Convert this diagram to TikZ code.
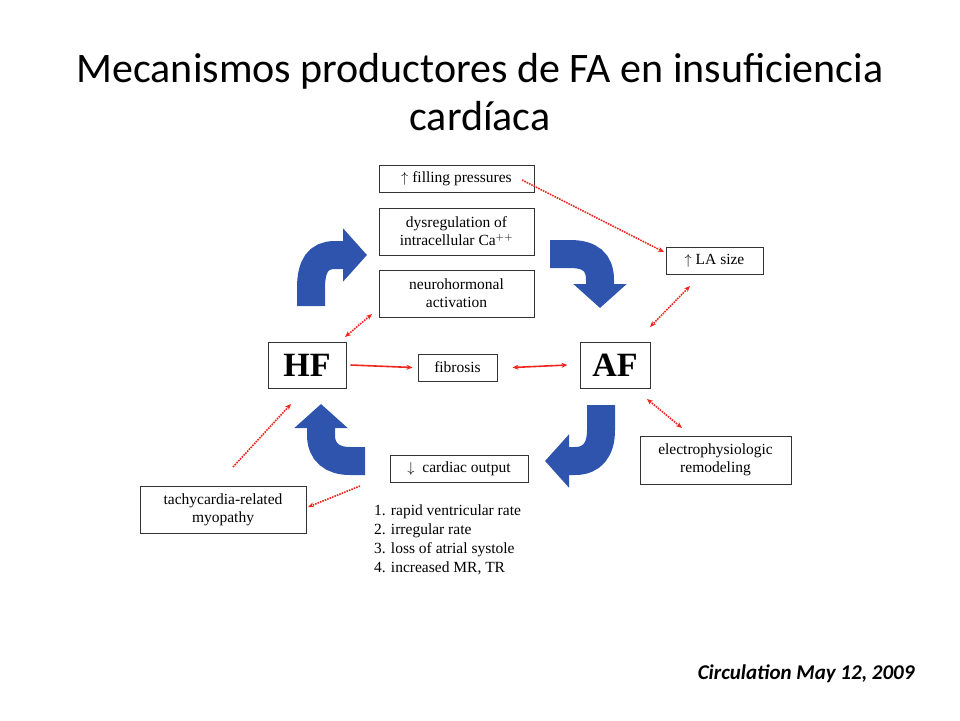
\documentclass[tikz,border=0pt]{standalone}
\usepackage{fontspec}
\setmainfont{Liberation Serif}
\newfontfamily\titlefont{Carlito}
\usetikzlibrary{arrows.meta}
\definecolor{blk}{rgb}{0.18,0.33,0.68}
\definecolor{redl}{rgb}{0.93,0.15,0.12}
\begin{document}
\begin{tikzpicture}[x=1pt,y=-1pt,
  bx/.style={draw=black!80,line width=1pt,fill=white,inner sep=0pt,align=center,font=\fontsize{15.5}{18}\selectfont},
  big/.style={bx,font=\fontsize{34}{36}\selectfont\bfseries},
  ra/.style={redl,line width=1.6pt,densely dotted,-{Stealth[length=6pt,width=5pt]}},
  rb/.style={redl,line width=1.6pt,densely dotted,{Stealth[length=6pt,width=5pt]}-{Stealth[length=6pt,width=5pt]}},
  ba/.style={blk,line width=28pt,-{Triangle[length=24pt,width=52pt]}}]
\useasboundingbox (0,0) rectangle (960,720);
\node[font=\titlefont\fontsize{42}{48}\selectfont,align=center] (title) at (480,92) {Mecanismos productores de FA en insuficiencia\\cardíaca};
\node[bx,minimum width=155,minimum height=27] (fp) at (456.5,178.5) {$\uparrow$ filling pressures};
\node[bx,minimum width=155,minimum height=47] (dys) at (456.5,231.5) {dysregulation of\\intracellular Ca$^{++}$};
\node[bx,minimum width=155,minimum height=47] (neu) at (456.5,293.5) {neurohormonal\\activation};
\node[bx,minimum width=97,minimum height=27] (la) at (714.5,260.5) {$\uparrow$ LA size};
\node[big,minimum width=78,minimum height=46] (hf) at (307,365) {HF};
\node[bx,minimum width=79,minimum height=27] (fib) at (457.5,367.5) {fibrosis};
\node[big,minimum width=70,minimum height=46] (af) at (615,365) {AF};
\node[bx,minimum width=151,minimum height=48] (ep) at (715.5,460) {electrophysiologic\\remodeling};
\node[bx,minimum width=138,minimum height=27] (co) at (459,468.5) {$\downarrow$\enspace cardiac output};
\node[bx,minimum width=166,minimum height=47] (ta) at (223,509.5) {tachycardia-related\\myopathy};
\node[anchor=north west,align=left,font=\fontsize{15.5}{19}\selectfont,inner sep=0pt] (lst) at (374,505) {1. rapid ventricular rate\\2. irregular rate\\3. loss of atrial systole\\4. increased MR, TR};
\node[anchor=east,font=\titlefont\fontsize{21}{24}\selectfont\bfseries\itshape] (cit) at (918,674) {Circulation May 12, 2009};
% red connectors
\coordinate (a1) at (522,180); \coordinate (a2) at (664,252);
\draw[ra] (a1) -- (a2);
\coordinate (b1) at (690,286); \coordinate (b2) at (650,327);
\draw[rb] (b1) -- (b2);
\coordinate (c1) at (372,314); \coordinate (c2) at (345,337);
\draw[rb] (c1) -- (c2);
\draw[ra,solid] ([xshift=4]hf.east) -- ([xshift=-5]fib.west);
\draw[rb,solid] ([xshift=15]fib.east) -- ([xshift=-12]af.west);
\coordinate (d1) at (647,399); \coordinate (d2) at (682,428);
\draw[rb] (d1) -- (d2);
\coordinate (e1) at (233,467); \coordinate (e2) at (291,404);
\draw[ra] (e1) -- (e2);
\coordinate (f1) at (360,486); \coordinate (f2) at (308,507);
\draw[ra] (f1) -- (f2);
% blue block arrows
\coordinate (g1) at (311,306); \coordinate (g2) at (367,255);
\draw[ba] (g1) -- (311,288) .. controls (311,266) and (318,255) .. (335,255) -- (g2);
\coordinate (h1) at (550,254); \coordinate (h2) at (600,308);
\draw[ba] (h1) -- (570,254) .. controls (590,254) and (600,262) .. (600,280) -- (h2);
\coordinate (i1) at (601,405); \coordinate (i2) at (545,461);
\draw[ba] (i1) -- (601,430) .. controls (601,450) and (592,461) .. (575,461) -- (i2);
\coordinate (j1) at (365,461); \coordinate (j2) at (321,404);
\draw[ba] (j1) -- (350,461) .. controls (332,461) and (321,452) .. (321,435) -- (j2);
\end{tikzpicture}
\end{document}
